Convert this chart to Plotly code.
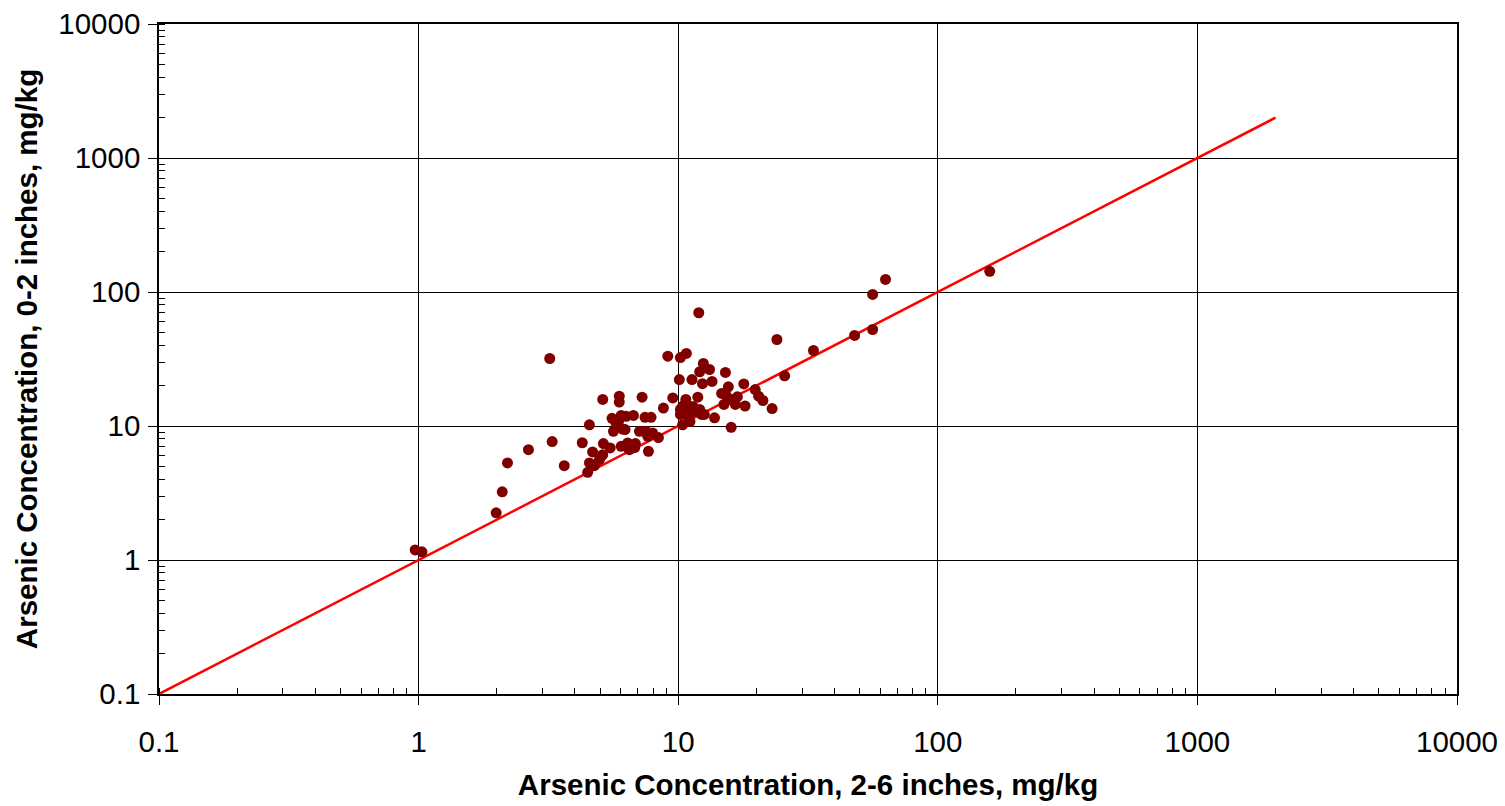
import plotly.graph_objects as go

# Arsenic concentration pairs (mg/kg)
depth_2_6 = [0.97, 1.03, 1.99, 2.10, 2.20, 2.65, 3.20, 3.27, 3.64, 4.27,
             4.48, 4.55, 4.55, 4.68, 4.75, 4.97, 5.12, 5.12, 5.15, 5.47,
             5.56, 5.63, 5.76, 5.93, 5.93, 6.03, 6.03, 6.24, 6.30, 6.39,
             6.48, 6.72, 6.80, 6.84, 7.09, 7.26, 7.45, 7.52, 7.63, 7.68,
             7.86, 7.97, 8.39, 8.77, 9.12, 9.53, 10.2, 10.75, 10.1, 10.7,
             10.4, 10.2, 10.4, 10.2, 11.0, 11.1, 11.3, 11.4, 11.9, 12.0,
             12.1, 12.1, 12.4, 12.5, 12.6, 13.2, 13.5, 13.8, 10.9, 11.6,
             14.7, 15.0, 15.2, 15.3, 15.6, 15.8, 16.0, 16.6, 16.9, 17.9,
             18.1, 19.8, 20.4, 21.2, 23.0, 24.0, 25.7, 33.2, 47.8, 56.1,
             56.1, 62.9, 158.5, 6.10, 5.90, 6.44, 6.60, 5.05, 10.6, 11.4,
             11.0, 12.3, 16.0]
depth_0_2 = [1.19, 1.15, 2.25, 3.23, 5.30, 6.66, 31.9, 7.65, 5.06, 7.50,
             4.51, 10.2, 5.30, 6.40, 5.06, 5.61, 6.11, 15.8, 7.39, 6.86,
             11.4, 9.13, 10.5, 16.7, 15.1, 12.0, 7.05, 9.40, 11.8, 7.48,
             6.66, 12.0, 6.90, 7.39, 9.13, 16.4, 11.6, 9.13, 8.38, 6.47,
             11.6, 8.88, 8.19, 13.6, 33.2, 16.2, 32.4, 34.8, 22.2, 15.8,
             14.0, 12.2, 10.2, 13.3, 12.0, 10.8, 22.2, 14.0, 16.4, 70.0,
             25.4, 13.3, 20.7, 29.3, 12.2, 26.4, 21.5, 11.5, 12.5, 12.9,
             17.5, 14.5, 25.1, 16.9, 19.6, 15.8, 9.78, 14.5, 16.5, 20.6,
             14.1, 18.7, 16.7, 15.5, 13.5, 44.2, 23.7, 36.6, 47.4, 52.5,
             96.0, 124.0, 142.6, 9.50, 10.9, 7.20, 6.80, 5.94, 14.5, 13.3,
             11.0, 12.2, 15.8]

# 1:1 reference line end points
line_x = [0.1, 2000]
line_y = [0.1, 2000]

tick_vals = [0.1, 1, 10, 100, 1000, 10000]
tick_text = ["0.1", "1", "10", "100", "1000", "10000"]

FONT = "Arial, Liberation Sans, sans-serif"

fig = go.Figure()
fig.add_trace(go.Scatter(x=line_x, y=line_y, mode="lines",
                         line=dict(color="#ff0000", width=2.5),
                         showlegend=False, hoverinfo="skip"))
fig.add_trace(go.Scatter(x=depth_2_6, y=depth_0_2, mode="markers",
                         marker=dict(color="#800000", size=11,
                                     line=dict(width=0)),
                         showlegend=False))

axis_common = dict(
    type="log",
    tickvals=tick_vals,
    ticktext=tick_text,
    ticklabeloverflow="allow",
    showgrid=True, gridcolor="#000000", gridwidth=1,
    showline=True, linecolor="#000000", linewidth=1.5, mirror=True,
    ticks="outside", ticklen=9, tickcolor="#000000", tickwidth=1,
    tickfont=dict(family=FONT, size=29.5, color="#000000"),
    minor=dict(ticks="inside", ticklen=6, tickcolor="#000000", tickwidth=1,
               dtick="D1", showgrid=False),
    zeroline=False,
)

fig.update_xaxes(range=[-1, 4], ticklabelstandoff=12,
                 title=dict(text="Arsenic Concentration, 2-6 inches, mg/kg",
                            font=dict(family=FONT, size=29.5, color="#000000",
                                      weight="bold"),
                            standoff=17),
                 **axis_common)
fig.update_yaxes(range=[-1, 4], ticklabelstandoff=2,
                 title=dict(text="Arsenic Concentration, 0-2 inches, mg/kg",
                            font=dict(family=FONT, size=29.5, color="#000000",
                                      weight="bold"),
                            standoff=12),
                 **axis_common)

fig.update_layout(
    width=1505, height=806,
    margin=dict(l=151, r=56, t=16, b=120, autoexpand=False),
    plot_bgcolor="#ffffff", paper_bgcolor="#ffffff",
    font=dict(family=FONT, color="#000000"),
)

fig.write_html("out.html")
